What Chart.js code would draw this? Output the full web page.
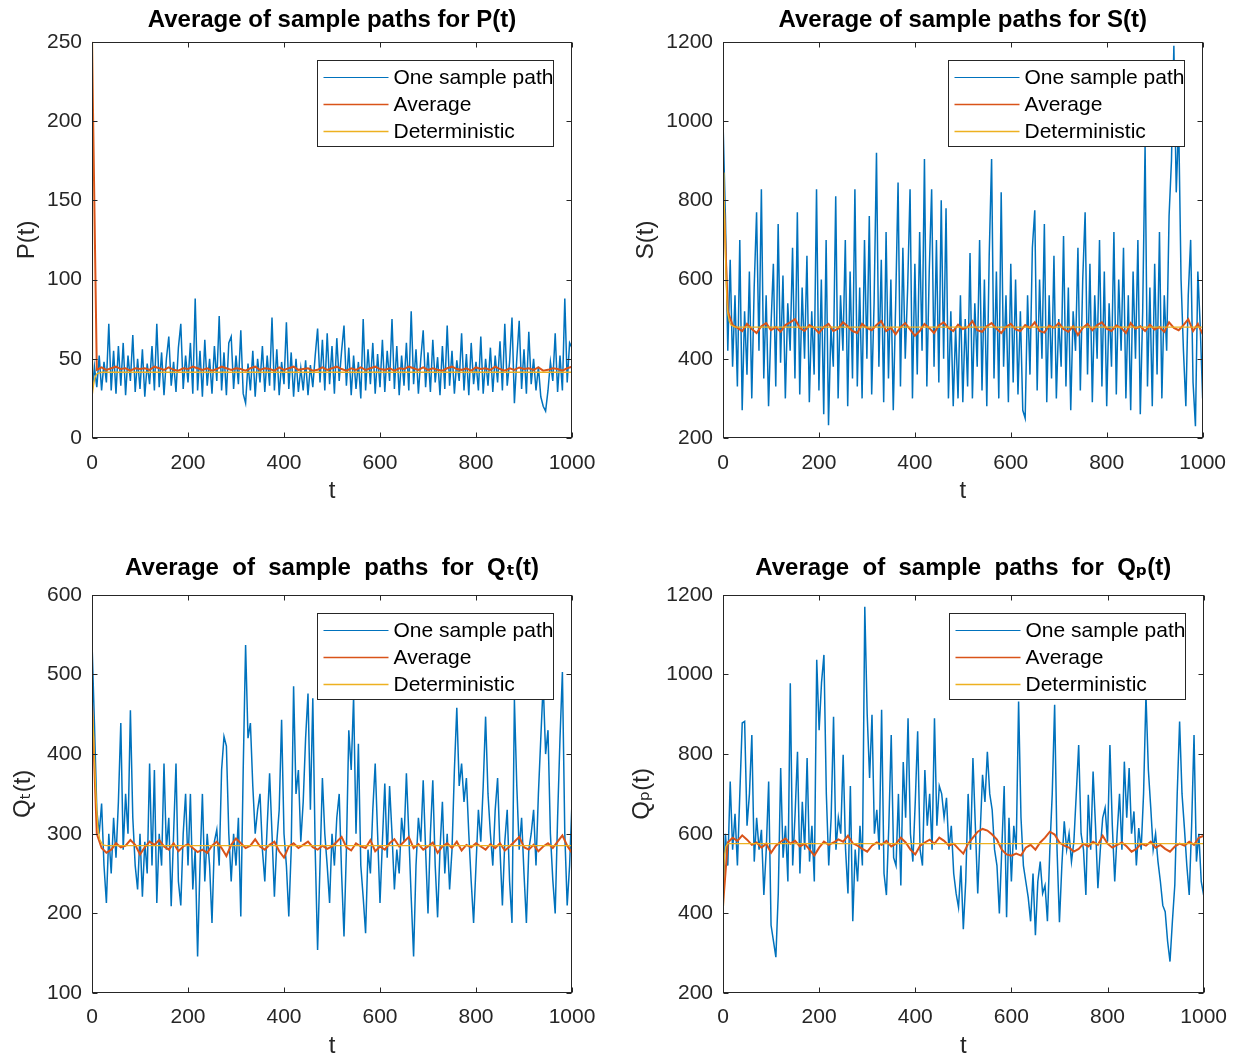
<!DOCTYPE html>
<html><head><meta charset="utf-8">
<script src="https://cdn.jsdelivr.net/npm/chart.js@4.4.0/dist/chart.umd.min.js"></script>
<style>
html,body{margin:0;padding:0;background:#fff;}
#wrap{position:relative;width:1239px;height:1061px;overflow:hidden;background:#fff;}
canvas{position:absolute;}
</style></head><body>
<div id="wrap">
<canvas id="cP" style="left:0px;top:0px;width:620px;height:530px" width="620" height="530"></canvas>
<canvas id="cS" style="left:620px;top:0px;width:619px;height:530px" width="619" height="530"></canvas>
<canvas id="cQt" style="left:0px;top:530px;width:620px;height:531px" width="620" height="531"></canvas>
<canvas id="cQp" style="left:620px;top:530px;width:619px;height:531px" width="619" height="531"></canvas>
</div>
<script>
// ---------- time grids ----------
const tSample = []; for (let t = 0; t <= 1000; t += 5) tSample.push(t);
const tAvg = []; for (let t = 0; t <= 1000; t += 10) tAvg.push(t);

// ---------- tick labels ----------
const xTickValues = [0, 200, 400, 600, 800, 1000];
const pTicks = [0, 50, 100, 150, 200, 250];
const sTicks = [200, 400, 600, 800, 1000, 1200];
const qtTicks = [100, 200, 300, 400, 500, 600];
const qpTicks = [200, 400, 600, 800, 1000, 1200];

const seriesNames = ['One sample path', 'Average', 'Deterministic'];

// ---------- P(t) ----------
const pSample = [28,45,32,52,30,48,35,72,30,55,
28,58,33,60,27,52,36,65,29,50,
31,56,26,47,34,58,30,72,32,54,
27,50,64,33,48,29,57,72,31,52,
35,60,28,88,30,55,26,62,33,50,
28,58,36,77,30,54,27,60,64,31,
52,34,68,28,22,47,30,55,26,50,
35,58,29,52,33,76,30,56,27,48,
34,73,31,54,26,50,29,44,30,49,
27,46,32,52,69,35,62,30,66,34,
58,28,63,36,55,71,33,57,27,52,
31,48,25,75,30,56,34,60,28,53,
32,62,29,55,36,75,31,58,27,52,
33,60,30,80,34,56,28,50,68,32,
54,29,62,35,51,27,58,31,71,33,
55,28,49,36,66,30,53,27,60,34,
48,30,64,28,50,33,57,29,52,35,
61,30,72,33,48,76,22,50,74,31,
56,28,67,34,50,30,45,26,20,17,
30,48,36,66,29,52,30,88,35,60,
57];
const pAverage = [250,43,44.5,43,44,45,43.5,44,42.5,44,43.5,
44,43,45,44,43,44.5,43,42.5,44,43.5,
45,44,43,44,42.5,43.5,45,44,43,44,
43.5,42.5,44,45,43,44,43.5,42.5,44.5,43,
44,45,43,43.5,44,42.5,43,44.5,43,44,
45,43.5,42.5,44,43,44.5,43,44,45,43.5,
43,44,42.5,44,43.5,45,44,43,44.5,43,
44,43,42.5,44,45,43.5,43,44,42.5,44.5,
43.5,44,43,45,43.5,42.5,44,43,44.5,43.5,
44,43,44.5,42.5,43,44,43.5,42.5,44,45];
const pDetT = [0, 1, 3, 6, 10, 20, 1000];
const pDetV = [250, 28, 33, 38, 40.5, 41.5, 41.5];

// ---------- S(t) ----------
const sSample = [1000,760,420,650,380,560,330,700,270,520,
360,620,300,580,770,420,828,350,560,280,
480,640,330,740,390,610,300,540,420,680,
350,770,310,580,400,660,290,520,360,828,
320,600,260,700,232,480,380,810,300,560,
420,700,280,620,350,828,330,580,300,700,
400,760,310,540,920,380,650,290,720,350,
600,270,540,845,330,680,400,580,828,300,
640,360,720,420,904,330,620,828,380,700,
340,800,400,780,300,520,280,480,300,560,
290,500,330,667,300,540,380,700,320,600,
280,660,904,350,620,300,820,380,560,290,
640,340,600,310,520,270,250,560,360,680,
775,320,600,400,740,290,560,350,660,300,
500,380,710,330,580,270,520,420,680,320,
600,770,360,640,290,560,400,700,330,620,
280,540,380,720,310,600,420,680,300,560,
270,620,400,700,260,520,940,330,580,280,
640,360,720,300,560,420,760,900,1190,820,
1000,600,420,280,560,700,340,230,620,480,
300];
const sAverage = [860,520,485,478,470,488,475,465,482,490,472,
480,468,485,492,500,478,470,485,478,465,
480,488,470,476,492,482,470,465,488,478,
472,485,495,470,478,462,480,490,474,458,
470,488,478,465,484,492,478,470,486,475,
480,495,472,468,482,490,476,465,480,488,
474,470,485,478,492,470,466,484,478,490,
475,468,482,460,478,488,472,485,492,476,
470,484,478,465,490,476,482,470,486,474,
480,468,492,478,472,485,500,470,488,462];
const sDetT = [0, 2, 4, 6, 8, 10, 13, 17, 25, 1000];
const sDetV = [870, 820, 720, 620, 550, 515, 495, 485, 480, 480];

// ---------- Q_t(t) ----------
const qtSample = [540,440,330,300,338,260,213,300,250,320,
270,340,439,280,350,300,455,320,260,230,
300,221,290,250,388,260,380,213,300,260,
388,280,320,209,300,388,240,210,300,350,
260,350,230,280,146,260,350,240,300,260,
188,290,305,260,380,422,410,300,240,300,
260,320,196,380,537,420,439,360,300,330,
350,280,240,310,376,300,221,290,330,443,
300,260,196,280,485,350,380,290,340,420,
476,330,470,280,154,260,370,300,260,213,
300,260,320,350,250,171,280,430,380,472,
300,413,260,220,175,280,250,330,388,300,
213,290,363,270,360,300,230,280,250,320,
290,376,300,220,146,260,320,290,367,280,
200,300,367,260,195,280,340,250,300,230,
280,380,458,360,388,340,370,300,240,188,
260,330,290,360,447,350,300,260,330,370,
280,210,290,330,240,188,468,360,280,320,
250,188,280,300,330,260,350,420,489,400,
430,300,242,200,320,420,503,300,210,260,
340];
const qtAverage = [465,300,282,276,280,288,283,285,292,286,274,
283,290,286,292,284,280,288,278,284,287,
282,277,280,276,285,290,282,272,286,294,
288,282,285,293,284,280,286,290,278,270,
284,288,282,286,290,283,280,285,281,284,
290,296,283,279,288,284,282,292,278,284,
280,288,293,284,290,296,282,287,280,284,
289,276,284,288,282,290,279,286,283,288,
284,280,287,282,288,279,284,290,296,283,
280,286,278,284,288,282,290,298,285,276];
const qtDetT = [0, 3, 6, 9, 12, 16, 22, 30, 1000];
const qtDetV = [465, 430, 380, 340, 310, 293, 286, 285, 285];

// ---------- Q_p(t) ----------
const qpSample = [430,600,520,731,560,650,520,700,878,882,
620,700,848,530,640,560,610,446,560,731,
370,330,290,450,765,540,620,480,978,520,
650,806,500,680,560,790,530,620,480,1037,
860,980,1049,700,520,640,894,560,640,600,
798,560,450,720,380,560,480,620,520,1170,
900,740,899,600,660,560,911,500,446,620,
848,540,520,700,470,780,640,890,600,530,
680,857,560,520,760,620,700,560,890,620,
720,700,640,690,560,620,500,450,415,520,
360,480,700,560,790,620,450,600,748,680,
806,700,660,560,520,400,560,720,390,640,
480,620,560,932,640,520,480,440,380,500,
345,480,530,450,470,380,560,700,924,560,
378,520,631,560,600,530,580,700,823,600,
560,446,698,560,756,620,463,560,640,665,
580,823,620,480,600,700,560,781,640,765,
600,656,520,614,560,700,949,760,665,560,
600,530,480,420,404,330,279,380,471,700,
882,700,614,520,446,620,848,530,600,480,
446];
const qpAverage = [420,578,590,582,596,585,572,578,565,575,552,
570,580,588,575,582,568,575,560,545,565,
580,572,578,586,580,595,576,570,562,555,
570,578,572,582,568,575,590,578,560,548,
570,578,585,575,590,582,570,575,562,550,
575,590,605,612,608,598,585,560,548,545,
550,545,565,572,560,578,590,605,598,578,
570,565,555,562,575,568,580,572,595,575,
565,572,578,568,555,562,575,570,580,565,
572,562,555,568,575,570,580,572,590,595];
const qpDetT = [0, 1, 3, 6, 10, 1000];
const qpDetV = [420, 480, 545, 568, 575, 575];

// ---------- styling ----------
const BLUE = '#0072BD', RED = '#D95319', YELLOW = '#EDB120';
const FONT = "'Liberation Sans', Arial, Helvetica, 'DejaVu Sans', sans-serif";
const AXIS_COLOR = '#262626';

const matlabAxes = {
  id: 'matlabAxes',
  afterDatasetsDraw(chart) {
    const { ctx, chartArea: a, scales: { x, y } } = chart;
    ctx.save();
    ctx.strokeStyle = AXIS_COLOR;
    ctx.lineWidth = 1;
    const L = Math.round(a.left) + 0.5, R = Math.round(a.right) - 0.5;
    const T = Math.round(a.top) + 0.5, B = Math.round(a.bottom) - 0.5;
    ctx.strokeRect(L, T, R - L, B - T);
    const tl = 5;
    ctx.beginPath();
    x.ticks.forEach(t => {
      const px = Math.round(x.getPixelForValue(t.value)) + 0.5;
      ctx.moveTo(px, B); ctx.lineTo(px, B - tl);
      ctx.moveTo(px, T); ctx.lineTo(px, T + tl);
    });
    y.ticks.forEach(t => {
      const py = Math.round(y.getPixelForValue(t.value)) + 0.5;
      ctx.moveTo(L, py); ctx.lineTo(L + tl, py);
      ctx.moveTo(R, py); ctx.lineTo(R - tl, py);
    });
    ctx.stroke();

    // legend box (inside, top-right)
    const bw = 236, bh = 86;
    const bx = Math.round(a.right - 19 - bw) + 0.5, by = Math.round(a.top + 18) + 0.5;
    ctx.fillStyle = '#fff';
    ctx.fillRect(bx, by, bw, bh);
    ctx.font = '21px ' + FONT;
    ctx.textBaseline = 'middle';
    ctx.textAlign = 'left';
    const rows = [17, 44, 71];
    chart.data.datasets.forEach((ds, i) => {
      const yy = by + rows[i];
      ctx.strokeStyle = ds.borderColor;
      ctx.lineWidth = ds.legendWidth || ds.borderWidth;
      ctx.beginPath();
      ctx.moveTo(bx + 6, yy); ctx.lineTo(bx + 71, yy);
      ctx.stroke();
      ctx.fillStyle = '#000';
      ctx.fillText(ds.label, bx + 76, yy + 1);
    });
    ctx.strokeStyle = AXIS_COLOR;
    ctx.lineWidth = 1;
    ctx.strokeRect(bx, by, bw, bh);
    ctx.restore();
  }
};

function pts(xs, ys) { return xs.map((t, i) => ({ x: t, y: ys[i] })); }

function buildChart(id, spec) {
  return new Chart(document.getElementById(id), {
    type: 'line',
    data: {
      datasets: [
        { label: seriesNames[0], data: pts(tSample, spec.sample), borderColor: BLUE, borderWidth: 1.5, legendWidth: 1.2, pointRadius: 0, tension: 0, order: 3 },
        { label: seriesNames[1], data: pts(tAvg, spec.avg), borderColor: RED, borderWidth: 2, legendWidth: 1.5, pointRadius: 0, tension: 0, order: 2 },
        { label: seriesNames[2], data: pts(spec.detT, spec.detV), borderColor: YELLOW, borderWidth: 1.3, pointRadius: 0, tension: 0, order: 1 }
      ]
    },
    options: {
      responsive: false, animation: false, devicePixelRatio: 1,
      layout: { padding: spec.pad },
      plugins: {
        legend: { display: false }, tooltip: { enabled: false },
        title: { display: true, text: spec.title, fullSize: false, color: '#000',
          font: { family: FONT, size: 24, weight: 'bold' }, padding: { top: 0, bottom: spec.titleGap } }
      },
      scales: {
        x: {
          type: 'linear', min: 0, max: 1000,
          grid: { display: false, drawTicks: false }, border: { display: false },
          afterBuildTicks: s => { s.ticks = xTickValues.map(v => ({ value: v })); },
          afterFit: s => { s.height = spec.xH; },
          ticks: { padding: spec.xTickPad, color: AXIS_COLOR, font: { family: FONT, size: 21 }, maxRotation: 0, autoSkip: false, callback: v => String(v) },
          title: { display: true, text: 't', color: AXIS_COLOR, font: { family: FONT, size: 24 }, padding: { top: 0, bottom: spec.xTitlePad } }
        },
        y: {
          type: 'linear', min: spec.yTicks[0], max: spec.yTicks[spec.yTicks.length - 1],
          grid: { display: false, drawTicks: false }, border: { display: false },
          afterBuildTicks: s => { s.ticks = spec.yTicks.map(v => ({ value: v })); },
          afterFit: s => { s.width = spec.yW; },
          ticks: { padding: 10, color: AXIS_COLOR, font: { family: FONT, size: 21 }, autoSkip: false, callback: v => String(v) },
          title: { display: true, text: spec.yTitle, color: AXIS_COLOR, font: { family: FONT, size: 24 }, padding: { top: spec.yTitlePad, bottom: 0 } }
        }
      }
    },
    plugins: [matlabAxes]
  });
}

buildChart('cP', { title: 'Average of sample paths for P(t)', yTitle: 'P(t)', sample: pSample, avg: pAverage, detT: pDetT, detV: pDetV,
  yTicks: pTicks, pad: { top: 6, left: 0, right: 48, bottom: 0 }, titleGap: 7, xH: 92, yW: 92, xTickPad: 13, xTitlePad: 24, yTitlePad: 13 });
buildChart('cS', { title: 'Average of sample paths for S(t)', yTitle: 'S(t)', sample: sSample, avg: sAverage, detT: sDetT, detV: sDetV,
  yTicks: sTicks, pad: { top: 6, left: 0, right: 34, bottom: 0 }, titleGap: 7, xH: 92, yW: 103, xTickPad: 13, xTitlePad: 24, yTitlePad: 12 });
buildChart('cQt', { title: 'Average  of  sample  paths  for  Q\u209C(t)', yTitle: 'Q\u209C(t)', sample: qtSample, avg: qtAverage, detT: qtDetT, detV: qtDetV,
  yTicks: qtTicks, pad: { top: 24, left: 0, right: 48, bottom: 0 }, titleGap: 12, xH: 68, yW: 92, xTickPad: 12, xTitlePad: 0, yTitlePad: 9 });
buildChart('cQp', { title: 'Average  of  sample  paths  for  Q\u209A(t)', yTitle: 'Q\u209A(t)', sample: qpSample, avg: qpAverage, detT: qpDetT, detV: qpDetV,
  yTicks: qpTicks, pad: { top: 24, left: 0, right: 34, bottom: 0 }, titleGap: 12, xH: 68, yW: 103, xTickPad: 12, xTitlePad: 0, yTitlePad: 8 });
</script>
</body></html>
